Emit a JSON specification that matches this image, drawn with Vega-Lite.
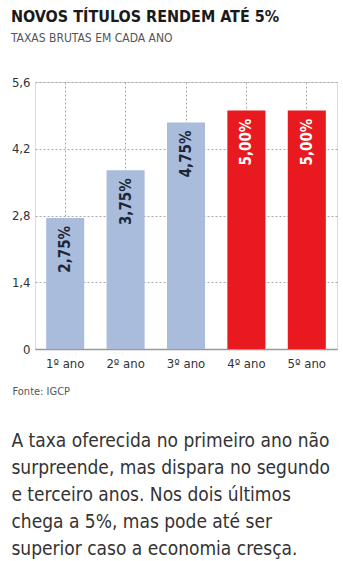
{
  "$schema": "https://vega.github.io/schema/vega-lite/v6.json",
  "background": "white",
  "padding": {"left": 10, "top": 8, "right": 5, "bottom": 5},
  "title": {
    "text": "NOVOS TÍTULOS RENDEM ATÉ 5%",
    "subtitle": "TAXAS BRUTAS EM CADA ANO",
    "anchor": "start",
    "font": "DejaVu Sans Condensed",
    "fontSize": 16,
    "fontWeight": "bold",
    "color": "#1a1a1a",
    "subtitleFont": "DejaVu Sans Condensed",
    "subtitleFontSize": 12,
    "subtitleColor": "#555555",
    "subtitlePadding": 8,
    "offset": 32
  },
  "vconcat": [
    {
      "width": 302,
      "height": 267,
      "title": {
        "text": [
          "A taxa oferecida no primeiro ano não",
          "surpreende, mas dispara no segundo",
          "e terceiro anos. Nos dois últimos",
          "chega a 5%, mas pode até ser",
          "superior caso a economia cresça."
        ],
        "orient": "bottom",
        "anchor": "start",
        "font": "DejaVu Sans Condensed",
        "fontSize": 19,
        "fontWeight": "normal",
        "lineHeight": 27,
        "color": "#333333",
        "offset": 36
      },
      "data": {
        "values": [
          {"ano": "1º ano", "taxa": 2.75, "rotulo": "2,75%", "grupo": "a"},
          {"ano": "2º ano", "taxa": 3.75, "rotulo": "3,75%", "grupo": "a"},
          {"ano": "3º ano", "taxa": 4.75, "rotulo": "4,75%", "grupo": "a"},
          {"ano": "4º ano", "taxa": 5.0, "rotulo": "5,00%", "grupo": "b"},
          {"ano": "5º ano", "taxa": 5.0, "rotulo": "5,00%", "grupo": "b"}
        ]
      },
      "encoding": {
        "x": {
          "field": "ano",
          "type": "nominal",
          "sort": null,
          "scale": {"paddingInner": 0.37, "paddingOuter": 0.185},
          "axis": {
            "labelAngle": 0,
            "labelFont": "DejaVu Sans Condensed",
            "labelFontSize": 13,
            "labelColor": "#333333",
            "labelPadding": 8,
            "ticks": false,
            "domain": true,
            "domainColor": "#999999",
            "domainWidth": 1.5,
            "grid": true,
            "gridDash": [2, 2],
            "gridColor": "#aaaaaa",
            "bandPosition": 0.5,
            "title": "Fonte: IGCP",
            "titleFont": "DejaVu Sans Condensed",
            "titleFontSize": 11,
            "titleFontWeight": "normal",
            "titleColor": "#555555",
            "titleAnchor": "start",
            "titleAlign": "left",
            "titleX": -23,
            "titlePadding": 15
          }
        },
        "y": {
          "field": "taxa",
          "type": "quantitative",
          "scale": {"domain": [0, 5.6], "nice": false},
          "axis": {
            "values": [0, 1.4, 2.8, 4.2, 5.6],
            "format": ".2~f",
            "labelExpr": "replace(datum.label, '.', ',')",
            "labelFont": "DejaVu Sans Condensed",
            "labelFontSize": 13,
            "labelColor": "#333333",
            "labelPadding": 5,
            "ticks": false,
            "domain": false,
            "grid": true,
            "gridDash": [2, 2],
            "gridColor": "#aaaaaa",
            "title": null
          }
        }
      },
      "layer": [
        {
          "mark": {"type": "bar"},
          "encoding": {
            "color": {
              "field": "grupo",
              "type": "nominal",
              "scale": {"domain": ["a", "b"], "range": ["#a9bcdb", "#e8191f"]},
              "legend": null
            }
          }
        },
        {
          "mark": {
            "type": "text",
            "angle": 270,
            "align": "right",
            "baseline": "middle",
            "dx": -8,
            "font": "DejaVu Sans Condensed",
            "fontSize": 15,
            "fontWeight": "bold"
          },
          "encoding": {
            "text": {"field": "rotulo"},
            "color": {
              "condition": {"test": "datum.grupo == 'b'", "value": "#ffffff"},
              "value": "#1c2638"
            }
          }
        }
      ]
    }
  ]
}
